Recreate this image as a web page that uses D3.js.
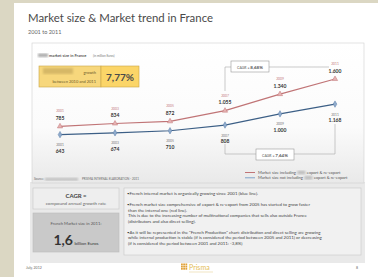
<!DOCTYPE html>
<html>
<head>
<meta charset="utf-8">
<script src="https://cdn.jsdelivr.net/npm/d3@7"></script>
<style>
  body { margin: 0; background: #dbd7c3; }
  svg { display: block; font-family: Lato, "Open Sans", sans-serif; }
</style>
</head>
<body>
<div id="slide"></div>
<script>
// donnees
const annees = ["2001", "2003", "2005", "2007", "2009", "2011"];
const avecExport = [785, 834, 872, 1055, 1340, 1600];
const sansExport = [643, 674, 710, 808, 1000, 1168];
const cagrHaut = "8,68%";
const cagrBas = "7,64%";
const croissance = "7,77%";
const legendes = [["Market size including", "export & re-export"],
                  ["Market size not including", "export & re-export"]];
const puces = [
    ["\u2022French internal market is organically growing since 2001 (blue line)."],
    ["\u2022French market size comprehensive of export & re-export from 2005 has started to grow faster",
     " than the internal one (red line).",
     " This is due to the increasing number of multinational companies that sells also outside France",
     " (distributors and also direct selling)."],
    ["\u2022As it will be represented in the \"French Production\" chart: distribution and direct selling are growing",
     " while internal production is stable (if is considered the period between 2005 and 2011) or decreasing",
     " (if is considered the period between 2001 and 2011: -3,8%)"]
];

const largeur = 378, hauteur = 277;
const rouge = "#c07476", bleu = "#3c5f86";

const svg = d3.select("#slide").append("svg")
    .attr("width", largeur)
    .attr("height", hauteur);

const defs = svg.append("defs");
const grad = defs.append("linearGradient").attr("id", "fond").attr("x1", 0).attr("y1", 0).attr("x2", 0).attr("y2", 1);
grad.append("stop").attr("offset", "0%").attr("stop-color", "#ffffff");
grad.append("stop").attr("offset", "60%").attr("stop-color", "#fbfbfb");
grad.append("stop").attr("offset", "100%").attr("stop-color", "#e9e9e9");
defs.append("filter").attr("id", "flou").append("feGaussianBlur").attr("stdDeviation", 1.2);

// fond de la diapo
svg.append("rect").attr("x", 14).attr("y", 3).attr("width", largeur - 14).attr("height", hauteur - 3).attr("fill", "#ffffff");

// titre
svg.append("text").attr("x", 28).attr("y", 21.5)
    .attr("font-size", 10.5).attr("fill", "#4a4a4a")
    .attr("textLength", 185).attr("lengthAdjust", "spacingAndGlyphs")
    .text("Market size & Market trend in France");
svg.append("text").attr("x", 28).attr("y", 33.5)
    .attr("font-size", 5.5).attr("fill", "#666")
    .text("2001 to 2011");

// bande grise du bas
svg.append("rect").attr("x", 30).attr("y", 182).attr("width", 335).attr("height", 81).attr("fill", "#e9e9e9");

// cadre du graphique
svg.append("rect").attr("x", 32).attr("y", 43).attr("width", 332).attr("height", 140)
    .attr("fill", "url(#fond)").attr("stroke", "#d0d0d0").attr("stroke-width", 0.6);

// titre interne
svg.append("rect").attr("x", 38).attr("y", 53.5).attr("width", 10).attr("height", 3.5)
    .attr("fill", "#aaa").attr("filter", "url(#flou)");
svg.append("text").attr("x", 49).attr("y", 57).attr("font-size", 4).attr("font-weight", "bold").attr("fill", "#555")
    .text("market size in France");
svg.append("text").attr("x", 93).attr("y", 57).attr("font-size", 3).attr("fill", "#777")
    .text("(in million Euros)");

// boite jaune
svg.append("rect").attr("x", 39).attr("y", 66).attr("width", 62).attr("height", 21)
    .attr("fill", "#f7d77c").attr("stroke", "#c9a645").attr("stroke-width", 0.6);
svg.append("rect").attr("x", 101).attr("y", 66).attr("width", 38).attr("height", 21)
    .attr("fill", "#fbd568").attr("stroke", "#c9a645").attr("stroke-width", 0.6);
svg.append("rect").attr("x", 43).attr("y", 68).attr("width", 30).attr("height", 6)
    .attr("fill", "#d6b866").attr("filter", "url(#flou)");
svg.append("text").attr("x", 96).attr("y", 74).attr("text-anchor", "end")
    .attr("font-size", 4).attr("fill", "#6b5a2a").text("growth");
svg.append("text").attr("x", 96).attr("y", 83).attr("text-anchor", "end")
    .attr("font-size", 4).attr("fill", "#6b5a2a").text("between 2010 and 2011");
svg.append("text").attr("x", 120).attr("y", 80.5).attr("text-anchor", "middle")
    .attr("font-size", 10).attr("font-weight", "bold").attr("fill", "#4a4a4a").text(croissance);

// echelles
const x = d3.scalePoint().domain(annees).range([60, 335]);
const y = d3.scaleLinear().domain([0, 1600]).range([172, 79]);
const fmt = d3.formatLocale({ decimal: ",", thousands: ".", grouping: [3], currency: ["", ""] }).format(",d");

// crochets CAGR
function crochet(chemin, boiteX, boiteY, texte) {
    svg.append("path").attr("d", chemin).attr("fill", "none").attr("stroke", "#aaa").attr("stroke-width", 0.6);
    svg.append("rect").attr("x", boiteX).attr("y", boiteY).attr("width", 38).attr("height", 11)
        .attr("fill", "#fff").attr("stroke", "#999").attr("stroke-width", 0.6);
    const t = svg.append("text").attr("x", boiteX + 19).attr("y", boiteY + 7.5).attr("text-anchor", "middle")
        .attr("font-size", 4.5).attr("fill", "#555");
    t.append("tspan").attr("font-size", 3.5).text("CAGR = ");
    t.append("tspan").attr("font-weight", "bold").text(texte);
}
const x07 = x("2007"), x11 = x("2011");
crochet("M" + x07 + "," + 91 + "V67H231M269,67H" + (x11 - 6), 231, 61, cagrHaut);
crochet("M" + x07 + "," + 144 + "V154H256M294,154H" + x11 + "V124", 256, 149, cagrBas);

// lignes
const ligne = d3.line().x((d, i) => x(annees[i])).y(d => y(d));
svg.append("path").datum(avecExport).attr("d", ligne).attr("fill", "none").attr("stroke", rouge).attr("stroke-width", 1.2);
svg.append("path").datum(sansExport).attr("d", ligne).attr("fill", "none").attr("stroke", bleu).attr("stroke-width", 1.2);

// marqueurs
svg.selectAll(".tri").data(avecExport).join("path")
    .attr("class", "tri")
    .attr("transform", (d, i) => "translate(" + x(annees[i]) + "," + y(d) + ")")
    .attr("d", d3.symbol(d3.symbolTriangle, 12))
    .attr("fill", "#e6b3b3").attr("stroke", rouge).attr("stroke-width", 0.5);
svg.selectAll(".dia").data(sansExport).join("path")
    .attr("class", "dia")
    .attr("transform", (d, i) => "translate(" + x(annees[i]) + "," + y(d) + ")")
    .attr("d", d3.symbol(d3.symbolDiamond, 12))
    .attr("fill", "#8fabcc").attr("stroke", "#5c7fa8").attr("stroke-width", 0.5);

// etiquettes
avecExport.forEach(function (v, i) {
    const px = x(annees[i]), py = y(v);
    svg.append("text").attr("x", px).attr("y", py - 14).attr("text-anchor", "middle")
        .attr("font-size", 3.3).attr("fill", "#c47a7c").text(annees[i]);
    svg.append("text").attr("x", px).attr("y", py - 6.5).attr("text-anchor", "middle")
        .attr("font-size", 5).attr("font-weight", "bold").attr("fill", "#333").text(fmt(v));
});
sansExport.forEach(function (v, i) {
    const px = x(annees[i]), py = y(v);
    svg.append("text").attr("x", px).attr("y", py + 11.5).attr("text-anchor", "middle")
        .attr("font-size", 3.3).attr("fill", "#777").text(annees[i]);
    svg.append("text").attr("x", px).attr("y", py + 18).attr("text-anchor", "middle")
        .attr("font-size", 5).attr("font-weight", "bold").attr("fill", "#333").text(fmt(v));
});

// legende
[rouge, "#7fa3c9"].forEach(function (c, i) {
    const ly = 172.5 + i * 5.3;
    svg.append("line").attr("x1", 245).attr("x2", 255).attr("y1", ly).attr("y2", ly)
        .attr("stroke", c).attr("stroke-width", 1);
    const debut = svg.append("text").attr("x", 258).attr("y", ly + 1.4).attr("font-size", 4.1).attr("fill", "#555")
        .text(legendes[i][0]);
    const fin = 258 + debut.node().getComputedTextLength();
    svg.append("rect").attr("x", fin + 1.5).attr("y", ly - 1.7).attr("width", 8).attr("height", 3.4)
        .attr("fill", "#bbb").attr("filter", "url(#flou)");
    svg.append("text").attr("x", fin + 11).attr("y", ly + 1.4).attr("font-size", 4.1).attr("fill", "#555")
        .text(legendes[i][1]);
});

// source
svg.append("text").attr("x", 34).attr("y", 180).attr("font-size", 3).attr("fill", "#666").text("Source:");
svg.append("rect").attr("x", 45).attr("y", 178).attr("width", 33).attr("height", 2.5)
    .attr("fill", "#bbb").attr("filter", "url(#flou)");
svg.append("text").attr("x", 82).attr("y", 180).attr("font-size", 3).attr("fill", "#666")
    .text("PRISMA INTERNAL ELABORATION - 2011");

// boite CAGR
svg.append("rect").attr("x", 33).attr("y", 188).attr("width", 86).attr("height", 21)
    .attr("fill", "#eeeeee").attr("stroke", "#c8c8c8").attr("stroke-width", 0.6);
svg.append("text").attr("x", 76).attr("y", 197.5).attr("text-anchor", "middle")
    .attr("font-size", 6).attr("font-weight", "bold").attr("fill", "#444").text("CAGR =");
svg.append("text").attr("x", 76).attr("y", 205).attr("text-anchor", "middle")
    .attr("font-size", 4.6).attr("fill", "#666").text("compound annual growth rate");

// boite marche 2011
svg.append("rect").attr("x", 33).attr("y", 213).attr("width", 86).attr("height", 39)
    .attr("fill", "#c9c9c9").attr("stroke", "#bdbdbd").attr("stroke-width", 0.6);
svg.append("text").attr("x", 76).attr("y", 224.5).attr("text-anchor", "middle")
    .attr("font-size", 4.2).attr("fill", "#555").text("French Market size in 2011:");
const gros = svg.append("text").attr("x", 76).attr("y", 245).attr("text-anchor", "middle").attr("fill", "#333");
gros.append("tspan").attr("font-size", 14).attr("font-weight", "bold").text("1,6");
gros.append("tspan").attr("font-size", 4.5).attr("dx", 1.5).text("billion Euros");

// boite texte
svg.append("rect").attr("x", 124).attr("y", 188).attr("width", 237).attr("height", 67)
    .attr("fill", "#f1f1f1").attr("stroke", "#c8c8c8").attr("stroke-width", 0.6);
let ty = 195;
puces.forEach(function (bloc) {
    bloc.forEach(function (l) {
        svg.append("text").attr("x", 127).attr("y", ty).attr("font-size", 4.4).attr("fill", "#444")
            .attr("xml:space", "preserve").text(l);
        ty += 5.5;
    });
    ty += 5.5;
});

// pied de page
svg.append("text").attr("x", 26).attr("y", 269).attr("font-size", 3.5).attr("fill", "#666").text("July, 2012");
svg.append("text").attr("x", 356).attr("y", 269).attr("font-size", 3.5).attr("fill", "#666").text("8");
for (let r = 0; r < 3; r++) {
    for (let c = 0; c < 3; c++) {
        svg.append("rect").attr("x", 181 + c * 2.2).attr("y", 263.5 + r * 2.2).attr("width", 1.8).attr("height", 1.8)
            .attr("fill", "#e0a23a");
    }
}
svg.append("text").attr("x", 189).attr("y", 269.5).attr("font-size", 7).attr("fill", "#e4bd55").text("Prisma");
svg.append("line").attr("x1", 189).attr("x2", 213).attr("y1", 272).attr("y2", 272)
    .attr("stroke", "#e8d49a").attr("stroke-width", 0.6);
</script>
</body>
</html>
